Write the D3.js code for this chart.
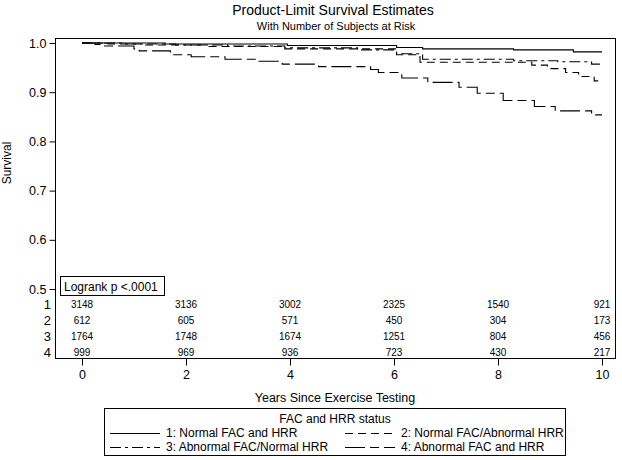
<!DOCTYPE html>
<html lang="en">
<head>
<meta charset="utf-8">
<script src="https://d3js.org/d3.v7.min.js"></script>
<style>
  body { margin: 0; background: #fff; }
  text { font-family: "Liberation Sans", Arial, sans-serif; fill: #000; }
</style>
</head>
<body>
<div id="chart"></div>
<script>
// number at risk table
const years = [0, 2, 4, 6, 8, 10];
const risk1 = [3148, 3136, 3002, 2325, 1540, 921];
const risk2 = [612, 605, 571, 450, 304, 173];
const risk3 = [1764, 1748, 1674, 1251, 804, 456];
const risk4 = [999, 969, 936, 723, 430, 217];

// survival step points
const t1 = [0, 1.6, 3.95, 6.05, 6.55, 8.3, 9.45, 10];
const s1 = [1, 0.998, 0.995, 0.991, 0.988, 0.986, 0.982, 0.982];
const t2 = [0, 0.5, 1.2, 2.4, 3.9, 6.05, 6.5, 8.65, 8.95, 9.3, 9.55, 9.85, 10];
const s2 = [1, 0.998, 0.996, 0.993, 0.988, 0.976, 0.961, 0.955, 0.948, 0.940, 0.932, 0.923, 0.923];
const t3 = [0, 0.8, 1.8, 2.8, 3.9, 5.3, 6.05, 6.55, 8.3, 9.15, 9.8, 10];
const s3 = [1, 0.998, 0.996, 0.994, 0.990, 0.986, 0.978, 0.967, 0.964, 0.962, 0.957, 0.955];
const t4 = [0, 0.25, 0.35, 1.0, 1.1, 1.7, 2.1, 2.75, 3.4, 3.85, 4.55, 5.55, 5.7, 6.15, 6.65, 7.25, 7.6, 8.1, 8.7, 9.1, 9.8, 10];
const s4 = [1, 0.997, 0.994, 0.988, 0.984, 0.976, 0.972, 0.967, 0.963, 0.957, 0.952, 0.946, 0.940, 0.929, 0.920, 0.910, 0.898, 0.883, 0.871, 0.862, 0.854, 0.854];

const groupNames = ["1: Normal FAC and HRR", "2: Normal FAC/Abnormal HRR",
                    "3: Abnormal FAC/Normal HRR", "4: Abnormal FAC and HRR"];
const yTicks = [0.5, 0.6, 0.7, 0.8, 0.9, 1.0];

const W = 622, H = 460;
const frame = {left: 55, right: 615, top: 38, bottom: 358};
const dashes = [null, "8,5", "11,4,3,4", "20,5,9,5"];

const svg = d3.select("#chart").append("svg")
  .attr("width", W).attr("height", H);

const x = d3.scaleLinear().domain([0, 10]).range([82, 602]);
const y = d3.scaleLinear().domain([0.5, 1.0]).range([289, 43]);

// titles
svg.append("text").attr("x", 333).attr("y", 15).attr("text-anchor", "middle")
  .style("font-size", "14px").text("Product-Limit Survival Estimates");
svg.append("text").attr("x", 336).attr("y", 30).attr("text-anchor", "middle")
  .style("font-size", "11px").text("With Number of Subjects at Risk");

// frame
svg.append("rect")
  .attr("x", frame.left + 0.5).attr("y", frame.top + 0.5)
  .attr("width", frame.right - frame.left).attr("height", frame.bottom - frame.top)
  .attr("fill", "none").attr("stroke", "#000");

// y axis
const yAxis = svg.append("g")
  .attr("transform", `translate(${frame.left + 0.5},0)`)
  .call(d3.axisLeft(y).tickValues(yTicks).tickFormat(d3.format(".1f")).tickSize(6).tickPadding(3));
yAxis.select(".domain").remove();
yAxis.selectAll("text").style("font-size", "12.5px").style("font-family", "Liberation Sans, Arial, sans-serif");

svg.append("text")
  .attr("transform", "translate(11,163) rotate(-90)")
  .attr("text-anchor", "middle")
  .style("font-size", "12px").text("Survival");

// x axis
const xAxis = svg.append("g")
  .attr("transform", `translate(0,${frame.bottom + 0.5})`)
  .call(d3.axisBottom(x).tickValues(years).tickSize(7).tickPadding(5));
xAxis.select(".domain").remove();
xAxis.selectAll("text").style("font-size", "12.5px").style("font-family", "Liberation Sans, Arial, sans-serif");

svg.append("text").attr("x", 335).attr("y", 402).attr("text-anchor", "middle")
  .style("font-size", "12.5px").text("Years Since Exercise Testing");

// survival curves
const curves = [[t1, s1], [t2, s2], [t3, s3], [t4, s4]];
const line = d3.line()
  .x(d => x(d[0])).y(d => y(d[1]))
  .curve(d3.curveStepAfter);

curves.forEach((c, i) => {
  const pts = c[0].map((t, j) => [t, c[1][j]]);
  svg.append("path")
    .datum(pts)
    .attr("d", line)
    .attr("fill", "none")
    .attr("stroke", "#000")
    .attr("stroke-width", 1.1)
    .attr("stroke-dasharray", dashes[i]);
});

// logrank box
svg.append("rect").attr("x", 60.5).attr("y", 276.5).attr("width", 104).attr("height", 19)
  .attr("fill", "#fff").attr("stroke", "#000");
svg.append("text").attr("x", 64).attr("y", 291)
  .style("font-size", "12px").text("Logrank p <.0001");

// at risk table
const risks = [risk1, risk2, risk3, risk4];
const rowY = d3.scalePoint().domain([1, 2, 3, 4]).range([304, 352]);
risks.forEach((r, i) => {
  svg.append("text")
    .attr("x", 51).attr("y", rowY(i + 1)).attr("dy", "0.35em")
    .attr("text-anchor", "end")
    .style("font-size", "13px").text(i + 1);
  svg.selectAll(null)
    .data(r)
    .join("text")
    .attr("x", (d, j) => x(years[j]))
    .attr("y", rowY(i + 1)).attr("dy", "0.35em")
    .attr("text-anchor", "middle")
    .style("font-size", "10px")
    .text(d => d);
});

// legend
const lg = svg.append("g");
lg.append("rect").attr("x", 104.5).attr("y", 408.5).attr("width", 461).attr("height", 47)
  .attr("fill", "none").attr("stroke", "#000");
lg.append("text").attr("x", 335).attr("y", 423).attr("text-anchor", "middle")
  .style("font-size", "12px").text("FAC and HRR status");
groupNames.forEach((name, i) => {
  const col = i % 2, row = Math.floor(i / 2);
  const x0 = col === 0 ? 110 : 345;
  const yy = 433 + row * 14;
  lg.append("line").attr("x1", x0).attr("x2", x0 + 50)
    .attr("y1", yy + 0.5).attr("y2", yy + 0.5)
    .attr("stroke", "#000").attr("stroke-width", 1.1)
    .attr("stroke-dasharray", dashes[i]);
  lg.append("text").attr("x", x0 + 56).attr("y", yy).attr("dy", "0.35em")
    .style("font-size", "12px").text(name);
});
</script>
</body>
</html>
